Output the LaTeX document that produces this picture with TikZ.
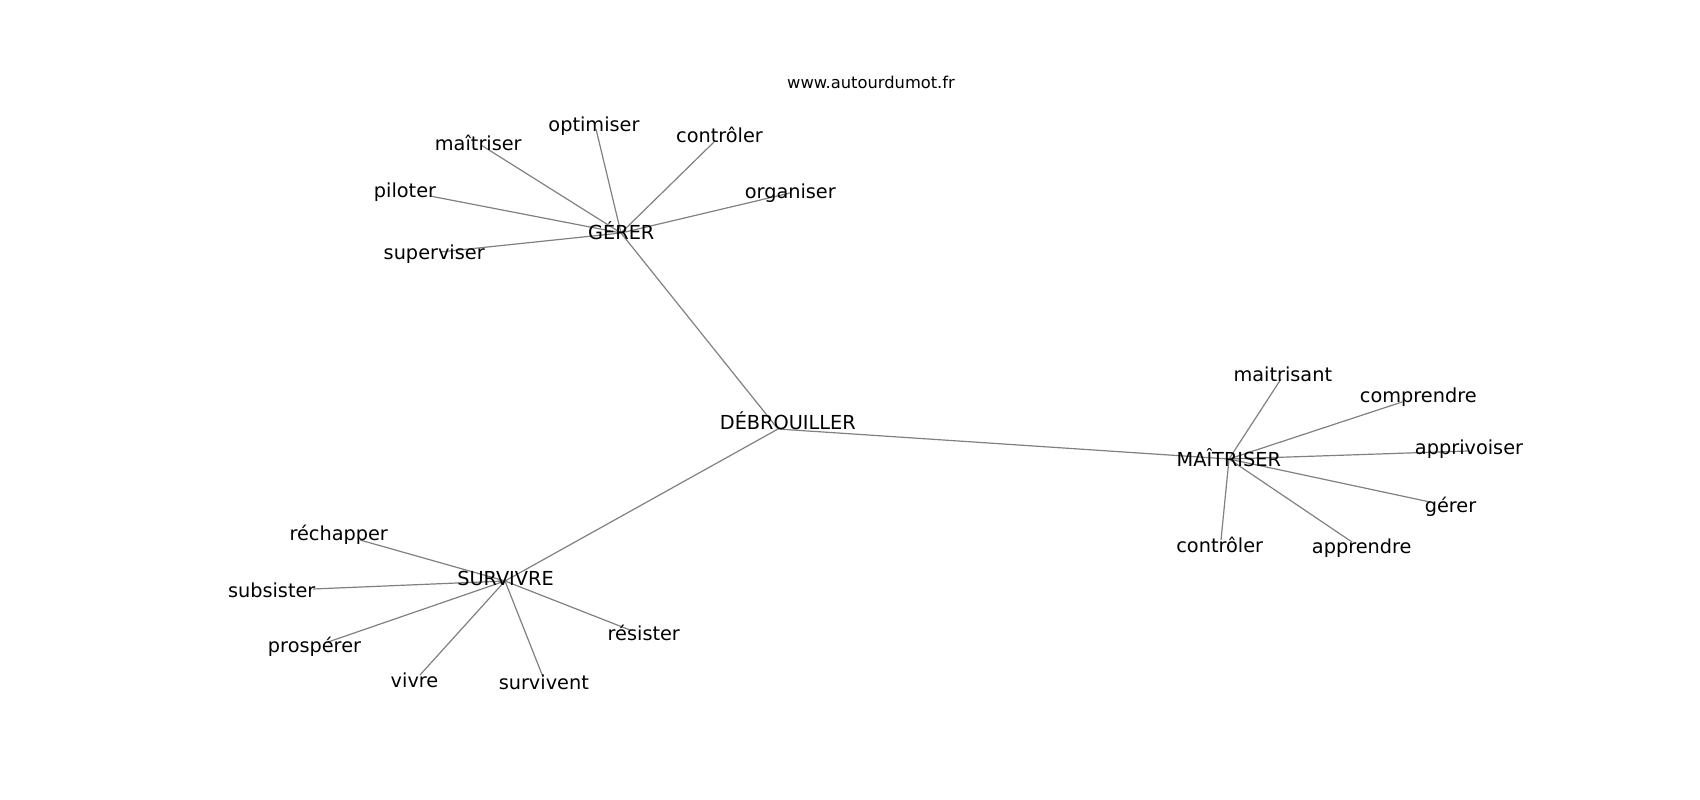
\documentclass[tikz,border=0pt]{standalone}
\usepackage{fontspec}
\setmainfont{DejaVu Sans}
\begin{document}
\begin{tikzpicture}[x=1pt,y=-1pt,
                    every edge/.style={draw=black!50,line width=1.2pt},
                    word/.style={anchor=base,inner sep=0pt,yshift=-0.5pt,font=\fontsize{19.3}{23}\selectfont},
                    site/.style={anchor=base,inner sep=0pt,font=\fontsize{16.3}{20}\selectfont}]
  \useasboundingbox (0,0) rectangle (1700,800);

  % positions of the graph
  \coordinate (deb) at (778,429);
  \coordinate (ger) at (621,233);
  \coordinate (mai) at (1229,459);
  \coordinate (sur) at (505,581);
  \coordinate (g1) at (481,145);
  \coordinate (g2) at (596,129);
  \coordinate (g3) at (714,142);
  \coordinate (g4) at (430,196);
  \coordinate (g5) at (790,193);
  \coordinate (g6) at (440,252);
  \coordinate (m1) at (1281,379);
  \coordinate (m2) at (1402,402);
  \coordinate (m3) at (1468,451);
  \coordinate (m4) at (1430,502);
  \coordinate (m5) at (1221,540);
  \coordinate (m6) at (1352,542);
  \coordinate (s1) at (360,540);
  \coordinate (s2) at (313,589);
  \coordinate (s3) at (328,642);
  \coordinate (s4) at (420,675);
  \coordinate (s5) at (543,677);
  \coordinate (s6) at (630,630);

  \path
    (deb) edge (ger)
    (deb) edge (mai)
    (deb) edge (sur)
    (ger) edge (g1) (ger) edge (g2) (ger) edge (g3)
    (ger) edge (g4) (ger) edge (g5) (ger) edge (g6)
    (mai) edge (m1) (mai) edge (m2) (mai) edge (m3)
    (mai) edge (m4) (mai) edge (m5) (mai) edge (m6)
    (sur) edge (s1) (sur) edge (s2) (sur) edge (s3)
    (sur) edge (s4) (sur) edge (s5) (sur) edge (s6);

  % labels
  \node[site] (web) at (871,88.3) {www.autourdumot.fr};
  \node[word] (debl) at (787.8,429.3) {DÉBROUILLER};
  \node[word] (gerl) at (621.3,239) {GÉRER};
  \node[word] (mail) at (1228.8,465.7) {MAÎTRISER};
  \node[word] (surl) at (505.5,585) {SURVIVRE};
  \node[word] (g1l) at (478.3,150) {maîtriser};
  \node[word] (g2l) at (594,130.7) {optimiser};
  \node[word] (g3l) at (719.5,142.3) {contrôler};
  \node[word] (g4l) at (405,196.7) {piloter};
  \node[word] (g5l) at (790.3,197.7) {organiser};
  \node[word] (g6l) at (434.2,259.3) {superviser};
  \node[word] (m1l) at (1282.8,380.7) {maitrisant};
  \node[word] (m2l) at (1418.3,402.3) {comprendre};
  \node[word] (m3l) at (1469,454.3) {apprivoiser};
  \node[word] (m4l) at (1450.5,511.7) {gérer};
  \node[word] (m5l) at (1219.7,551.7) {contrôler};
  \node[word] (m6l) at (1361.7,552.7) {apprendre};
  \node[word] (s1l) at (338.7,540) {réchapper};
  \node[word] (s2l) at (271.7,596.7) {subsister};
  \node[word] (s3l) at (314.5,651.7) {prospérer};
  \node[word] (s4l) at (414.5,686.7) {vivre};
  \node[word] (s5l) at (543.8,689.3) {survivent};
  \node[word] (s6l) at (643.8,640) {résister};
\end{tikzpicture}
\end{document}
